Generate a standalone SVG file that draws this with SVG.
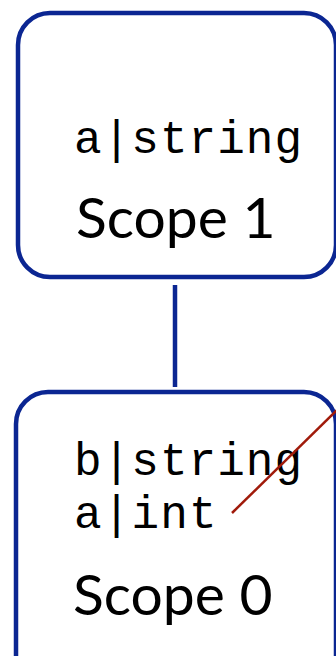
<svg xmlns="http://www.w3.org/2000/svg" width="336" height="656" viewBox="0 0 336 656">
<style>
.box{fill:#fff;stroke:#0b2692;stroke-width:4.5}
.mono{font-family:"Liberation Mono","DejaVu Sans Mono",monospace;font-size:46px;fill:#000}
.label{font-family:Lato,"Open Sans",sans-serif;font-size:57px;fill:#000}
</style>
<rect width="336" height="656" fill="#fff"/>
<g id="connectors">
<line x1="175" y1="285" x2="175" y2="387" stroke="#0b2692" stroke-width="4.5"/>
</g>
<g id="scope1">
<rect class="box" x="18" y="13" width="318" height="264" rx="32"/>
<text class="mono" x="74" y="153" textLength="228" lengthAdjust="spacing">a|string</text>
<text class="label" x="76" y="238">Scope 1</text>
</g>
<g id="scope0">
<rect class="box" x="16" y="392" width="320" height="300" rx="32"/>
<text class="mono" x="74" y="475" textLength="228" lengthAdjust="spacing">b|string</text>
<text class="mono" x="74" y="528" textLength="142.5" lengthAdjust="spacing">a|int</text>
<text class="label" x="73" y="615">Scope 0</text>
<line x1="232" y1="513" x2="337" y2="410" stroke="#a01a0a" stroke-width="2.5"/>
</g>
</svg>
